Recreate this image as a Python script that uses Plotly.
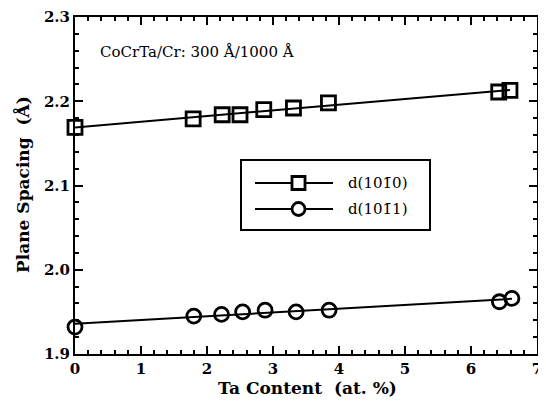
import numpy as np
import plotly.graph_objects as go

# ---- data ----
ta_sq = [0.0, 1.79, 2.23, 2.50, 2.86, 3.31, 3.84, 6.42, 6.59]
d1010 = [2.169, 2.179, 2.184, 2.184, 2.190, 2.192, 2.198, 2.211, 2.213]
ta_ci = [0.0, 1.80, 2.22, 2.54, 2.88, 3.35, 3.85, 6.43, 6.62]
d1011 = [1.932, 1.945, 1.947, 1.950, 1.952, 1.950, 1.952, 1.962, 1.966]
x_ticks = [0, 1, 2, 3, 4, 5, 6, 7]
y_ticks = [1.9, 2.0, 2.1, 2.2, 2.3]
names = ["d(101\u03040)", "d(101\u03041)"]

FONT = "DejaVu Serif"

fig = go.Figure()

def fit_line(xs, ys):
    p = np.polyfit(xs, ys, 1)
    xx = np.array([0.0, max(xs)])
    return xx, np.polyval(p, xx)

for xs, ys, sym, nm in [(ta_sq, d1010, "square-open", names[0]),
                        (ta_ci, d1011, "circle-open", names[1])]:
    fx, fy = fit_line(xs, ys)
    fig.add_trace(go.Scatter(x=fx, y=fy, mode="lines",
                             line=dict(color="black", width=2),
                             showlegend=False, hoverinfo="skip"))
    fig.add_trace(go.Scatter(x=xs, y=ys, mode="markers", name=nm,
                             marker=dict(symbol=sym, size=14, color="black",
                                         line=dict(width=2.8, color="black")),
                             showlegend=False, cliponaxis=False))

# page body has an 8px margin -> figure is 8px smaller, layout in screen pixels
OFF = 8
W, H = 546 - OFF, 402 - OFF
# plot area in screen pixels
L, R, T, B = 75, 537, 17, 354
def px(xp):
    return (xp - L) / (R - L)
def py(yp):
    return (B - yp) / (B - T)

shapes = [dict(type="rect", xref="paper", yref="paper",
               x0=px(241), x1=px(430), y0=py(230), y1=py(160),
               line=dict(color="black", width=2), fillcolor="white", layer="above")]
annos = []
rows = [(183, "sq", names[0]), (209, "ci", names[1])]
for yy, kind, label in rows:
    shapes.append(dict(type="line", xref="paper", yref="paper",
                       x0=px(255), x1=px(333), y0=py(yy), y1=py(yy),
                       line=dict(color="black", width=2), layer="above"))
    shapes.append(dict(type="rect" if kind == "sq" else "circle",
                       xref="paper", yref="paper",
                       x0=px(292), x1=px(305), y0=py(yy + 6.5), y1=py(yy - 6.5),
                       line=dict(color="black", width=2.8), fillcolor="white",
                       layer="above"))
    annos.append(dict(xref="paper", yref="paper", x=px(346), y=py(yy),
                      text=label, showarrow=False, xanchor="left",
                      yanchor="middle",
                      font=dict(family=FONT, size=15, color="black")))

annos.append(dict(xref="paper", yref="paper", x=px(98), y=py(52),
                  text="CoCrTa/Cr: 300 Å/1000 Å", showarrow=False,
                  xanchor="left", yanchor="middle",
                  font=dict(family=FONT, size=15, color="black")))

# axis titles as annotations for precise placement
annos.append(dict(xref="paper", yref="paper", x=px(307), y=py(388),
                  text="Ta Content  (at. %)", showarrow=False,
                  xanchor="center", yanchor="middle",
                  font=dict(family=FONT, size=17, color="black", weight="bold")))
annos.append(dict(xref="paper", yref="paper", x=px(22), y=py(185),
                  text="Plane Spacing  (Å)", showarrow=False, textangle=-90,
                  xanchor="center", yanchor="middle",
                  font=dict(family=FONT, size=17, color="black", weight="bold")))

axis_common = dict(showline=True, linecolor="black", linewidth=2,
                   mirror="allticks", ticks="inside", ticklen=8,
                   tickwidth=1.5, tickcolor="black", showgrid=False,
                   zeroline=False, automargin=False,
                   ticklabeloverflow="allow",
                   tickfont=dict(family=FONT, size=15, color="black",
                                 weight="bold"))

fig.update_layout(
    width=W, height=H,
    margin=dict(l=L - OFF, r=W - (R - OFF), t=T - OFF, b=H - (B - OFF)),
    paper_bgcolor="white", plot_bgcolor="white",
    showlegend=False,
    shapes=shapes, annotations=annos,
    xaxis=dict(range=[0, 7], tickmode="linear", tick0=x_ticks[0],
               dtick=x_ticks[1] - x_ticks[0], tickformat="d",
               minor=dict(dtick=0.2, ticklen=4, tickcolor="black", ticks="inside",
                          tickwidth=1.5, showgrid=False),
               **axis_common),
    yaxis=dict(range=[1.9, 2.3], tickmode="linear", tick0=y_ticks[0],
               dtick=0.1, tickformat=".1f",
               minor=dict(dtick=0.02, ticklen=4, tickcolor="black", ticks="inside",
                          tickwidth=1.5, showgrid=False),
               **axis_common),
)

fig.write_html("out.html")
